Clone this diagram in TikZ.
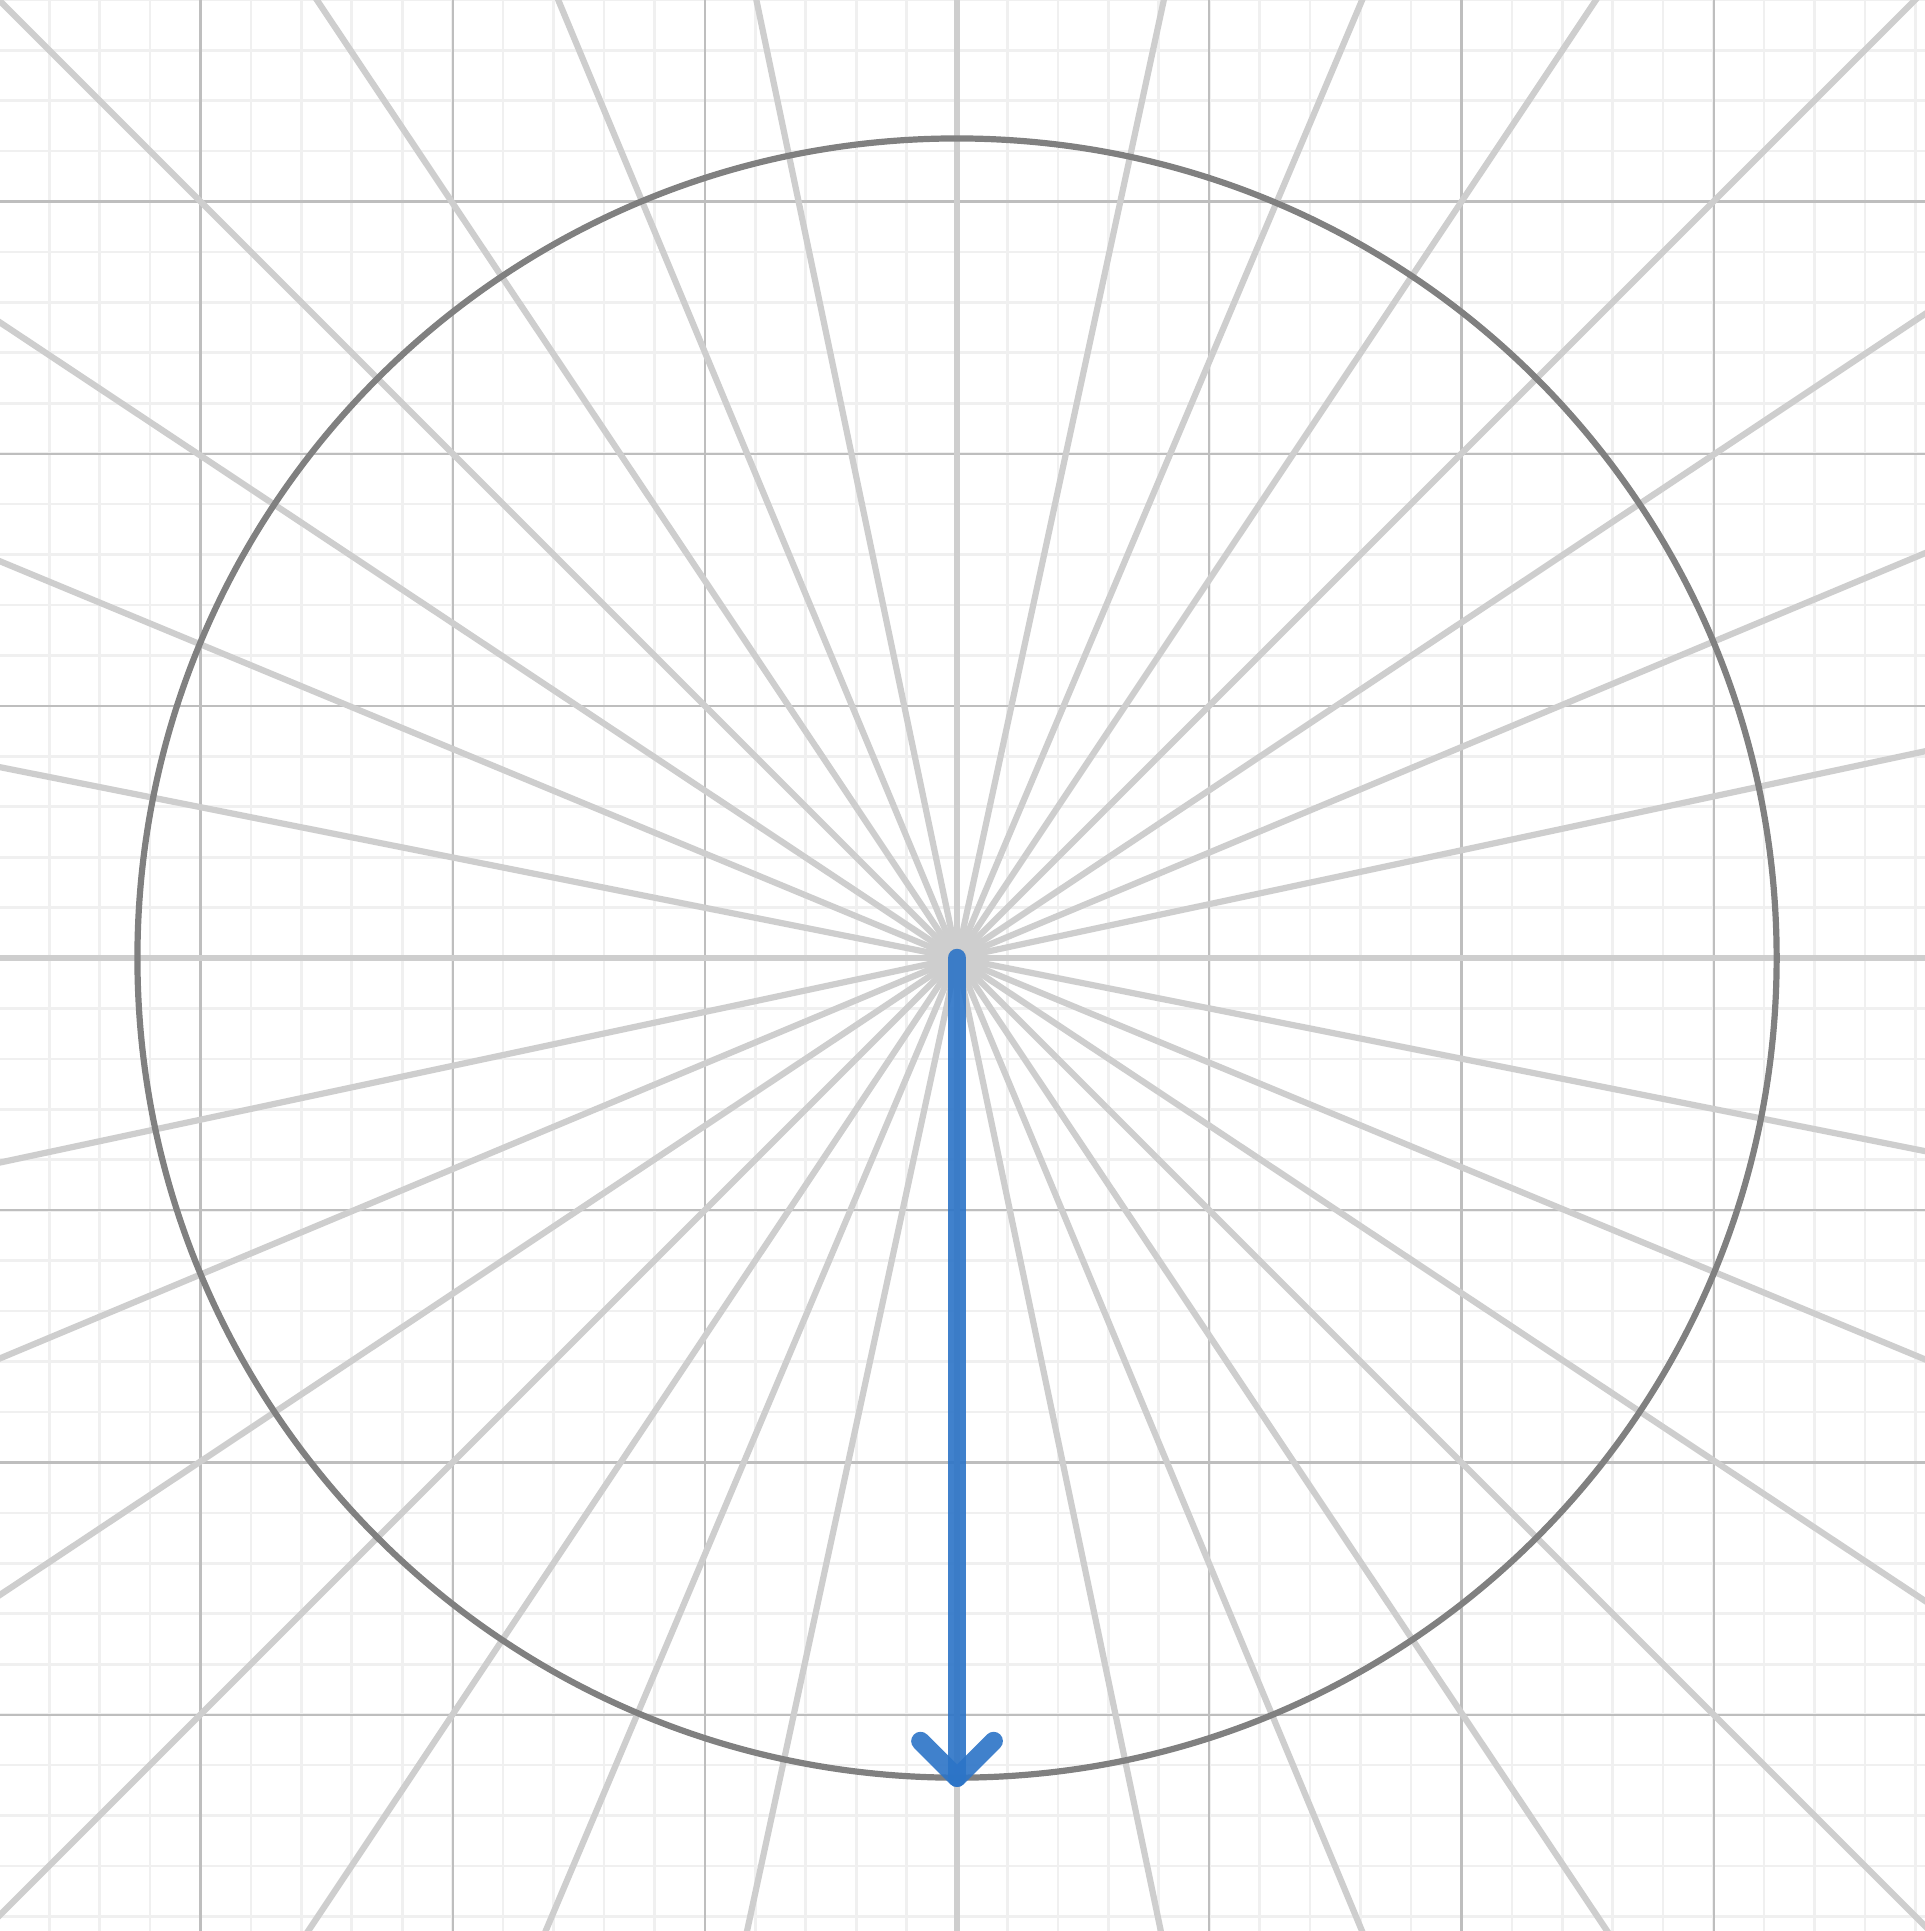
\documentclass[tikz,border=0pt]{standalone}
\usepackage{tikz}

\begin{document}
\begin{tikzpicture}
  \definecolor{minorgrid}{RGB}{240,240,240}
  \definecolor{majorgrid}{RGB}{190,190,190}
  \definecolor{raycol}{RGB}{206,206,206}
  \definecolor{circcol}{RGB}{128,128,128}
  \definecolor{vecblue}{RGB}{44,116,199}

  \tikzset{
    minorline/.style={draw=minorgrid,line width=0.3pt},
    majorline/.style={draw=majorgrid,line width=0.25pt},
    rayline/.style={draw=raycol,line width=0.7pt},
    unitcircle/.style={draw=circcol,line width=0.7pt},
    vecline/.style={draw=vecblue,opacity=0.9,line width=2.1pt,line cap=round,line join=round}
  }

  % frame of the plot
  \fill[white] (-3.795,-3.858) rectangle (3.838,3.799);
  \useasboundingbox (-3.795,-3.858) rectangle (3.838,3.799);
  \clip (-3.795,-3.858) rectangle (3.838,3.799);

  % ---------------- grid ----------------
  \draw[minorline] (-4,-4) grid[step=0.2] (4,4);
  \draw[majorline] (-4,-4) grid[step=1] (4,4);

  \coordinate (O) at (0,0);

  % ---------------- rays through the origin ----------------
  \foreach \ang in {0,12.06,22.7,33.64,45,56.3,67.08,77.82,90,101.83,112.6,123.75,135,146.41,157.48,168.72}
    \draw[rayline] (O) -- (\ang:6) (O) -- (\ang+180:6);

  % ---------------- circle ----------------
  \draw[unitcircle] (O) circle[radius=3.25];

  % ---------------- vector ----------------
  \coordinate (S) at (0,-3.25);
  \draw[vecline] (O) -- (S);
  \draw[vecline] (S) ++(-0.145,0.145) -- (S) -- ++(0.145,0.145);
\end{tikzpicture}
\end{document}
